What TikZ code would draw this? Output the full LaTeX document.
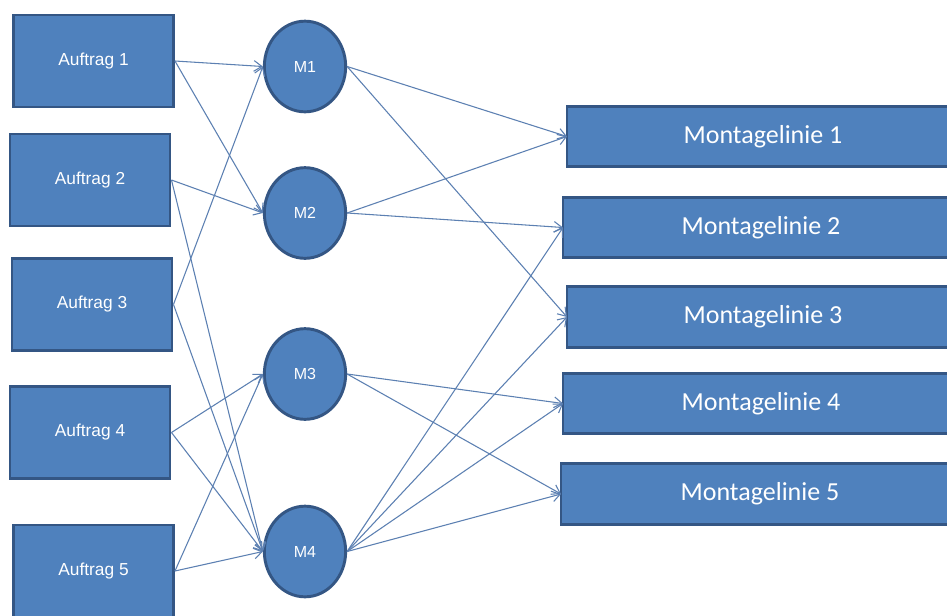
\documentclass[tikz,border=0pt]{standalone}
\usepackage{fontspec}
\usetikzlibrary{shapes.geometric,arrows.meta}
\newfontfamily\arialf{Liberation Sans}
\newfontfamily\calibrif{Carlito}
\definecolor{boxblue}{RGB}{79,129,189}
\definecolor{boxrim}{RGB}{52,86,132}
\definecolor{linkblue}{RGB}{92,128,178}
\tikzset{
  auftrag/.style={rectangle, fill=boxblue, draw=boxrim, line width=2.2pt,
    text=white, font=\arialf\fontsize{13}{15}\selectfont, inner sep=0pt,
    minimum width=120pt, minimum height=69pt},
  maschine/.style={ellipse, fill=boxblue, draw=boxrim, line width=2.2pt,
    text=white, font=\arialf\fontsize{12}{14}\selectfont, inner sep=0pt,
    minimum width=61pt, minimum height=68pt},
  linie/.style={rectangle, fill=boxblue, inner sep=0pt,
    minimum height=45pt, anchor=west},
  linierand/.style={draw=boxrim, line width=2.2pt, line join=miter},
  linietext/.style={text=white, font=\calibrif\fontsize{19.5}{22}\selectfont},
  link/.style={draw=linkblue, line width=0.8pt,
    -{Straight Barb[length=6pt,width=8pt,line width=0.8pt]}}
}
\begin{document}
\begin{tikzpicture}[x=0.75pt,y=-0.75pt]
  \useasboundingbox (0,0) rectangle (947,615);
  \fill[white] (0,0) rectangle (947,615);

  % orders
  \node[auftrag] (a1) at (93.5,61)  {Auftrag 1};
  \node[auftrag] (a2) at (90,180)   {Auftrag 2};
  \node[auftrag] (a3) at (92,304.5) {Auftrag 3};
  \node[auftrag] (a4) at (90,432.5) {Auftrag 4};
  \node[auftrag] (a5) at (93.5,571) {Auftrag 5};

  % machines
  \node[maschine] (m1) at (305,66.5) {M1};
  \node[maschine] (m2) at (305,213)  {M2};
  \node[maschine] (m3) at (305,374)  {M3};
  \node[maschine] (m4) at (305,551.5) {M4};

  % assembly lines, open towards the right edge
  \node[linie, minimum width=285pt] (l1) at (567,136.5) {};
  \node[linie, minimum width=288pt] (l2) at (563,227.5) {};
  \node[linie, minimum width=285pt] (l3) at (567,317)   {};
  \node[linie, minimum width=288pt] (l4) at (563,403.5) {};
  \node[linie, minimum width=289.5pt] (l5) at (561,494) {};
  \foreach \l in {l1,l2,l3,l4,l5}
    \draw[linierand] (\l.north east) -- (\l.north west)
                     -- (\l.south west) -- (\l.south east);
  \node[linietext] (t1) at (763,136.5) {Montagelinie 1};
  \node[linietext] (t2) at (761,227.5) {Montagelinie 2};
  \node[linietext] (t3) at (763,317)   {Montagelinie 3};
  \node[linietext] (t4) at (761,403.5) {Montagelinie 4};
  \node[linietext] (t5) at (760,494)   {Montagelinie 5};

  % orders to machines
  \draw[link] (a1.east) -- (m1.west);
  \draw[link] (a1.east) -- (m2.west);
  \draw[link] (a2.east) -- (m2.west);
  \draw[link] (a2.east) -- (m4.west);
  \draw[link] (a3.east) -- (m1.west);
  \draw[link] (a3.east) -- (m4.west);
  \draw[link] (a4.east) -- (m3.west);
  \draw[link] (a4.east) -- (m4.west);
  \draw[link] (a5.east) -- (m3.west);
  \draw[link] (a5.east) -- (m4.west);

  % machines to assembly lines
  \draw[link] (m1.east) -- (l1.west);
  \draw[link] (m1.east) -- (l3.west);
  \draw[link] (m2.east) -- (l1.west);
  \draw[link] (m2.east) -- (l2.west);
  \draw[link] (m3.east) -- (l4.west);
  \draw[link] (m3.east) -- (l5.west);
  \draw[link] (m4.east) -- (l2.west);
  \draw[link] (m4.east) -- (l3.west);
  \draw[link] (m4.east) -- (l4.west);
  \draw[link] (m4.east) -- (l5.west);
\end{tikzpicture}
\end{document}
